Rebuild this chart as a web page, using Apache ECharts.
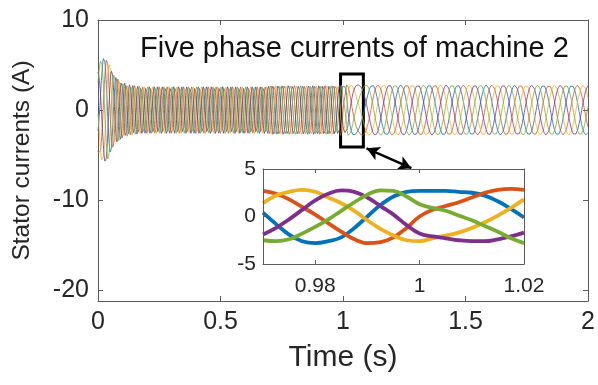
<!DOCTYPE html>
<html>
<head>
<meta charset="utf-8">
<script src="https://cdn.jsdelivr.net/npm/echarts@6/dist/echarts.min.js"></script>
<style>
  html, body { margin: 0; padding: 0; background: #ffffff; }
  #chart { width: 598px; height: 385px; }
</style>
</head>
<body>
<div id="chart"></div>
<script>
// Five stator phase currents of machine 2 (MATLAB default colour order)
const phaseNames = ['Phase a', 'Phase b', 'Phase c', 'Phase d', 'Phase e'];
const phaseColors = ['#0072BD', '#D95319', '#EDB120', '#7E2F8E', '#77AC30'];

// Current envelope: peak amplitude (A) at time knots (s)
const ampTimes  = [0, 0.012, 0.025, 0.04, 0.055, 0.07, 0.10, 0.13, 0.18, 0.69, 0.72, 0.97, 1.02, 1.10, 2.00];
const ampValues = [4.6, 5.6, 5.9, 5.5, 4.4, 3.7, 3.1, 2.8, 2.6, 2.6, 2.75, 2.75, 2.8, 2.8, 2.75];

// Electrical frequency (Hz) at time knots (s)
const freqTimes  = [0, 0.05, 0.10, 0.69, 0.72, 0.97, 1.02, 1.06, 1.12, 2.00];
const freqValues = [12, 20, 30, 30, 24, 24, 12, 5, 8.6, 8.6];

// Electrical angle of phase a (deg) at the edges of the zoomed window
const anglePhaseA = { start: 171, end: 182 };

// Zoomed window 0.97 – 1.02 s, one sample every 2.5 ms
const zoomTimes = [0.970, 0.9725, 0.975, 0.9775, 0.980, 0.9825, 0.985, 0.9875, 0.990, 0.9925, 0.995,
                   0.9975, 1.000, 1.0025, 1.005, 1.0075, 1.010, 1.0125, 1.015, 1.0175, 1.020];
const zoomA = [0.4, -0.8, -1.9, -2.6, -2.8, -2.6, -2.2, -1.2, 0.0, 1.2, 2.1, 2.6, 2.7, 2.7, 2.7, 2.6, 2.5, 2.2, 1.6, 0.8, -0.1];
const zoomB = [2.7, 2.4, 1.8, 1.0, 0.2, -0.7, -1.6, -2.4, -2.8, -2.7, -2.2, -1.2, 0.0, 0.7, 1.1, 1.5, 2.0, 2.5, 2.8, 2.9, 2.8];
const zoomC = [1.4, 2.2, 2.6, 2.8, 2.6, 2.0, 1.4, 0.6, -0.4, -1.3, -2.0, -2.5, -2.6, -2.3, -2.0, -1.7, -1.2, -0.6, 0.1, 0.9, 1.8];
const zoomD = [-1.9, -1.2, -0.3, 0.7, 1.7, 2.4, 2.75, 2.6, 2.0, 1.1, 0.2, -0.9, -1.8, -2.1, -2.3, -2.5, -2.6, -2.6, -2.4, -2.1, -1.7];
const zoomE = [-2.5, -2.6, -2.4, -1.8, -1.1, -0.3, 0.6, 1.5, 2.3, 2.75, 2.7, 2.1, 1.3, 0.9, 0.6, 0.1, -0.4, -1.0, -1.6, -2.3, -2.8];
const zoomPhases = [zoomA, zoomB, zoomC, zoomD, zoomE];

// Axis ticks
const mainXTicks = [0, 0.5, 1, 1.5, 2];
const mainYTicks = [-20, -10, 0, 10];
const zoomXTicks = [0.98, 1, 1.02];
const zoomYTicks = [-5, 0, 5];

// ---- build the sampled waveforms ----
function interp(xs, ys, x) {
  if (x <= xs[0]) return ys[0];
  for (let i = 1; i < xs.length; i++) {
    if (x <= xs[i]) {
      const r = (x - xs[i - 1]) / (xs[i] - xs[i - 1]);
      return ys[i - 1] + r * (ys[i] - ys[i - 1]);
    }
  }
  return ys[ys.length - 1];
}

const STEP = 0.001;          // 1 ms sampling
const N = 2000;              // 0 .. 2 s
const iStart = 970, iEnd = 1020;

// cumulative electrical angle (cycles) from the frequency profile
const cycles = new Array(N + 1);
cycles[0] = 0;
for (let i = 1; i <= N; i++) {
  const f0 = interp(freqTimes, freqValues, (i - 1) * STEP);
  const f1 = interp(freqTimes, freqValues, i * STEP);
  cycles[i] = cycles[i - 1] + 0.5 * (f0 + f1) * STEP;
}

function phaseSeries(k) {
  const out = [];
  const shift = k * 72;
  for (let i = 0; i < iStart; i++) {
    const t = i * STEP;
    const ang = anglePhaseA.start + 360 * (cycles[i] - cycles[iStart]) - shift;
    out.push([t, interp(ampTimes, ampValues, t) * Math.sin(ang * Math.PI / 180)]);
  }
  zoomTimes.forEach((t, j) => out.push([t, zoomPhases[k][j]]));
  for (let i = iEnd + 1; i <= N; i++) {
    const t = i * STEP;
    const ang = anglePhaseA.end + 360 * (cycles[i] - cycles[iEnd]) - shift;
    out.push([t, interp(ampTimes, ampValues, t) * Math.sin(ang * Math.PI / 180)]);
  }
  return out;
}

// ---- chart ----
const FONT = '"Liberation Sans", Arial, sans-serif';
const TEXT = '#262626';
const AXIS = '#5a5a5a';

function boxAxis(extra) {
  return Object.assign({
    axisLine: { show: true, onZero: false, lineStyle: { color: AXIS, width: 1 } },
    axisTick: { show: true, inside: true, length: 5, lineStyle: { color: AXIS } },
    splitLine: { show: false },
    axisLabel: { show: false }
  }, extra);
}

const series = [];
phaseNames.forEach((name, k) => {
  series.push({
    name: name,
    type: 'line',
    xAxisIndex: 0, yAxisIndex: 0,
    data: phaseSeries(k),
    showSymbol: false,
    symbol: 'none',
    lineStyle: { color: phaseColors[k], width: 0.8 },
    animation: false,
    z: 2
  });
});

// zoom box and double-headed pointer on the main axes
series[0].markArea = {
  silent: true,
  itemStyle: { color: 'rgba(0,0,0,0)', borderColor: '#000', borderWidth: 3 },
  data: [[{ coord: [0.99, 4.0] }, { coord: [1.083, -4.1] }]]
};
series[0].markLine = {
  silent: true,
  animation: false,
  symbol: ['arrow', 'arrow'],
  symbolSize: [11, 13],
  lineStyle: { color: '#000', width: 2.5, type: 'solid' },
  label: { show: false },
  data: [[{ coord: [1.096, -4.25] }, { coord: [1.279, -6.45] }]]
};

phaseNames.forEach((name, k) => {
  series.push({
    name: name + ' (zoom)',
    type: 'line',
    xAxisIndex: 2, yAxisIndex: 2,
    data: zoomTimes.map((t, j) => [t, zoomPhases[k][j]]),
    smooth: 0.4,
    showSymbol: false,
    symbol: 'none',
    lineStyle: { color: phaseColors[k], width: 3.8 },
    animation: false,
    z: 5
  });
});

const chart = echarts.init(document.getElementById('chart'), null, { renderer: 'canvas' });
chart.setOption({
  backgroundColor: '#ffffff',
  animation: false,
  textStyle: { fontFamily: FONT },
  grid: [
    { left: 98, right: 9, top: 20, bottom: 84 },
    { left: 263, right: 74, top: 169, bottom: 121, show: true, backgroundColor: '#ffffff', borderWidth: 0, z: 4 }
  ],
  xAxis: [
    boxAxis({
      gridIndex: 0, type: 'value', min: 0, max: 2, position: 'bottom',
      name: 'Time (s)', nameLocation: 'middle', nameGap: 42,
      nameTextStyle: { fontSize: 30, color: TEXT, fontFamily: FONT },
      axisTick: { show: true, inside: true, length: 5, lineStyle: { color: AXIS }, customValues: mainXTicks },
      axisLabel: { show: true, fontSize: 25, color: TEXT, fontFamily: FONT, margin: 9, customValues: mainXTicks }
    }),
    boxAxis({
      gridIndex: 0, type: 'value', min: 0, max: 2, position: 'top',
      axisTick: { show: true, inside: true, length: 5, lineStyle: { color: AXIS }, customValues: mainXTicks }
    }),
    boxAxis({
      gridIndex: 1, type: 'value', min: 0.97, max: 1.02, position: 'bottom', z: 6,
      axisTick: { show: true, inside: true, length: 4, lineStyle: { color: AXIS }, customValues: zoomXTicks },
      axisLabel: {
        show: true, fontSize: 21, color: TEXT, fontFamily: FONT, margin: 12, customValues: zoomXTicks,
        formatter: v => String(Math.round(v * 100) / 100)
      }
    }),
    boxAxis({
      gridIndex: 1, type: 'value', min: 0.97, max: 1.02, position: 'top', z: 6,
      axisTick: { show: true, inside: true, length: 4, lineStyle: { color: AXIS }, customValues: zoomXTicks }
    })
  ],
  yAxis: [
    boxAxis({
      gridIndex: 0, type: 'value', min: -21.2, max: 10, position: 'left',
      name: 'Stator currents (A)', nameLocation: 'middle', nameGap: 63, nameRotate: 90,
      nameTextStyle: { fontSize: 24.5, color: TEXT, fontFamily: FONT },
      axisTick: { show: true, inside: true, length: 5, lineStyle: { color: AXIS }, customValues: mainYTicks },
      axisLabel: { show: true, fontSize: 25, color: TEXT, fontFamily: FONT, margin: 9, customValues: mainYTicks }
    }),
    boxAxis({
      gridIndex: 0, type: 'value', min: -21.2, max: 10, position: 'right',
      axisTick: { show: true, inside: true, length: 5, lineStyle: { color: AXIS }, customValues: mainYTicks }
    }),
    boxAxis({
      gridIndex: 1, type: 'value', min: -5, max: 5, position: 'left', z: 6,
      axisTick: { show: true, inside: true, length: 4, lineStyle: { color: AXIS }, customValues: zoomYTicks },
      axisLabel: { show: true, fontSize: 21, color: TEXT, fontFamily: FONT, margin: 7, customValues: zoomYTicks }
    }),
    boxAxis({
      gridIndex: 1, type: 'value', min: -5, max: 5, position: 'right', z: 6,
      axisTick: { show: true, inside: true, length: 4, lineStyle: { color: AXIS }, customValues: zoomYTicks }
    })
  ],
  graphic: [{
    type: 'text',
    left: 140, top: 34, z: 10,
    style: { text: 'Five phase currents of machine 2', fill: '#111', font: '29px ' + FONT }
  }],
  series: series
});
</script>
</body>
</html>
